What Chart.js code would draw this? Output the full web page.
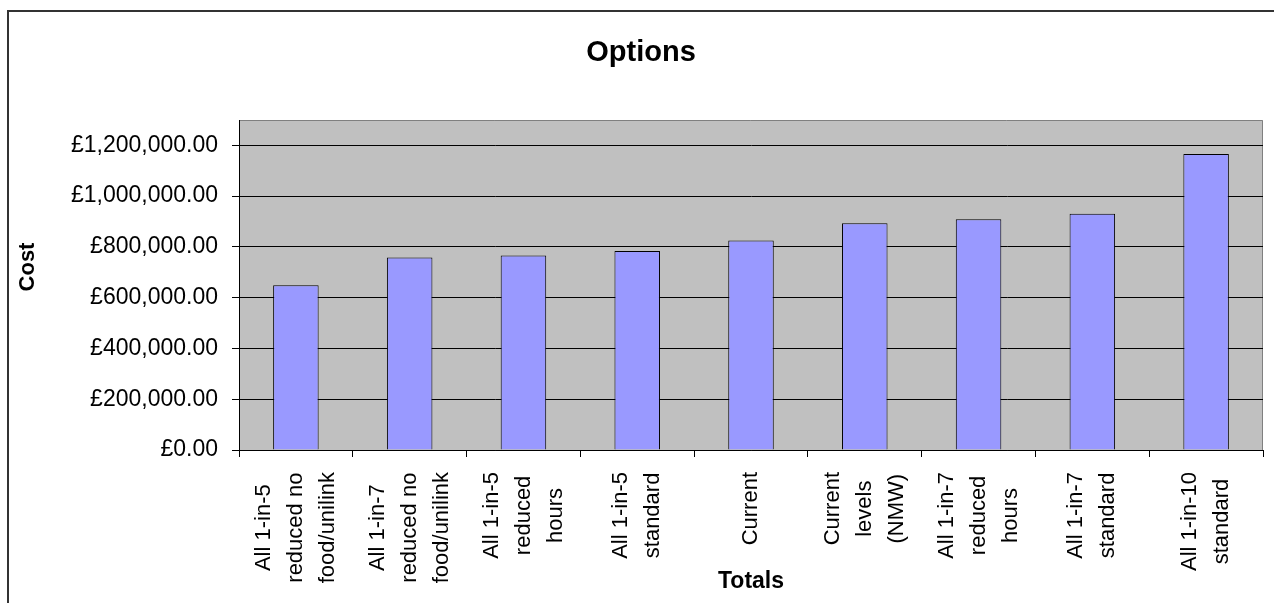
<!DOCTYPE html>
<html>
<head>
<meta charset="utf-8">
<script src="https://cdn.jsdelivr.net/npm/chart.js@4/dist/chart.umd.min.js"></script>
<style>
  html, body { margin: 0; padding: 0; background: #ffffff; }
  #wrap { width: 1274px; height: 603px; position: relative; }
</style>
</head>
<body>
<div id="wrap"><canvas id="c"></canvas></div>
<script>
const chartTitle = 'Options';
const xAxisTitle = 'Totals';
const yAxisTitle = 'Cost';
const categories = [
  ['All 1-in-5', 'reduced no', 'food/unilink'],
  ['All 1-in-7', 'reduced no', 'food/unilink'],
  ['All 1-in-5', 'reduced', 'hours'],
  ['All 1-in-5', 'standard'],
  ['Current'],
  ['Current', 'levels', '(NMW)'],
  ['All 1-in-7', 'reduced', 'hours'],
  ['All 1-in-7', 'standard'],
  ['All 1-in-10', 'standard']
];
const costValues = [649000, 758000, 766000, 784000, 825000, 893000, 909000, 931000, 1166000];
const yTickValues = [0, 200000, 400000, 600000, 800000, 1000000, 1200000];
const yMin = 0;
const yMax = 1300000;

const FONT = '"Liberation Sans", Arial, Helvetica, sans-serif';
Chart.defaults.font.family = FONT;
Chart.defaults.color = '#000000';

const decorPlugin = {
  id: 'decor',
  beforeDraw(chart) {
    const ctx = chart.ctx;
    const a = chart.chartArea;
    ctx.save();
    ctx.fillStyle = '#ffffff';
    ctx.fillRect(0, 0, chart.width, chart.height);
    ctx.fillStyle = '#333333';
    ctx.fillRect(7, 10, 2, chart.height - 10);
    ctx.fillRect(7, 10, chart.width - 7, 2);
    ctx.fillStyle = '#c0c0c0';
    ctx.fillRect(a.left, a.top, a.right - a.left, a.bottom - a.top);
    ctx.strokeStyle = '#808080';
    ctx.lineWidth = 1;
    ctx.beginPath();
    ctx.moveTo(a.left, a.top + 0.5);
    ctx.lineTo(a.right - 0.5, a.top + 0.5);
    ctx.lineTo(a.right - 0.5, a.bottom);
    ctx.stroke();
    ctx.restore();
  },
  afterDraw(chart) {
    const ctx = chart.ctx;
    const xs = chart.scales.x;
    const a = chart.chartArea;
    ctx.save();
    ctx.font = '22px ' + FONT;
    ctx.fillStyle = '#000000';
    ctx.textAlign = 'center';
    ctx.textBaseline = 'middle';
    const lineH = 32;
    const startY = a.bottom + 22;
    categories.forEach((lines, i) => {
      const cx = xs.getPixelForValue(i);
      const maxW = Math.max(...lines.map(l => ctx.measureText(l).width));
      const cy = startY + maxW / 2;
      lines.forEach((line, j) => {
        const lx = cx + (j - (lines.length - 1) / 2) * lineH;
        ctx.save();
        ctx.translate(lx, cy);
        ctx.rotate(-Math.PI / 2);
        ctx.fillText(line, 0, 0);
        ctx.restore();
      });
    });
    ctx.font = 'bold 22px ' + FONT;
    ctx.save();
    ctx.translate(28, 267);
    ctx.rotate(-Math.PI / 2);
    ctx.fillText(yAxisTitle, 0, 0);
    ctx.restore();
    ctx.restore();
  }
};

new Chart(document.getElementById('c'), {
  type: 'bar',
  data: {
    labels: categories,
    datasets: [{
      label: yAxisTitle,
      data: costValues,
      backgroundColor: '#9999ff',
      borderColor: '#000000',
      borderWidth: 1,
      categoryPercentage: 1.0,
      barPercentage: 0.4
    }]
  },
  options: {
    responsive: true,
    maintainAspectRatio: false,
    animation: false,
    devicePixelRatio: 1,
    layout: { padding: { left: 19, right: 11, top: 0, bottom: 0 } },
    plugins: {
      legend: { display: false },
      tooltip: { enabled: false },
      title: {
        display: true,
        text: chartTitle,
        color: '#000000',
        font: { size: 29, weight: 'bold', family: FONT, lineHeight: 1.2 },
        padding: { top: 36, bottom: 49.2 }
      }
    },
    scales: {
      x: {
        offset: true,
        grid: {
          display: true,
          offset: true,
          drawOnChartArea: false,
          drawTicks: true,
          tickLength: 7,
          color: '#000000'
        },
        border: { display: true, color: '#000000', width: 1 },
        ticks: { display: false },
        title: {
          display: true,
          text: xAxisTitle,
          color: '#000000',
          font: { size: 23, weight: 'bold', family: FONT, lineHeight: 1.2 },
          padding: { top: 0, bottom: 8 }
        },
        afterFit(scale) { scale.height = 153; }
      },
      y: {
        min: yMin,
        max: yMax,
        grid: {
          color: '#000000',
          lineWidth: 1,
          drawTicks: true,
          tickLength: 7
        },
        border: { display: true, color: '#000000', width: 1 },
        afterBuildTicks(scale) {
          scale.ticks = yTickValues.map(v => ({ value: v }));
        },
        ticks: {
          padding: 14,
          color: '#000000',
          font: { size: 23, family: FONT },
          callback: (v) => '£' + Number(v).toLocaleString('en-GB', { minimumFractionDigits: 2, maximumFractionDigits: 2 })
        },
        afterFit(scale) { scale.width = 220; }
      }
    }
  },
  plugins: [decorPlugin]
});
</script>
</body>
</html>
